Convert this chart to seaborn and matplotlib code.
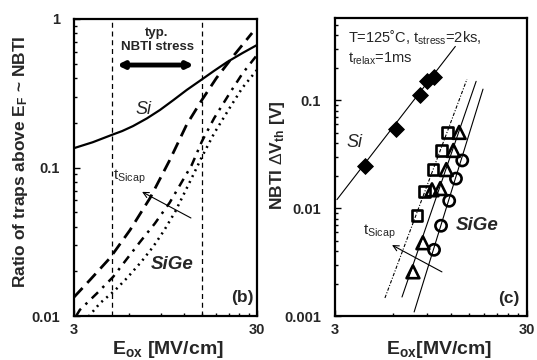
import numpy as np
import matplotlib
matplotlib.use("Agg")
import matplotlib.pyplot as plt
import seaborn as sns

# (b) trap ratio curves
si_x = [3.0, 3.8, 4.84, 5.5, 6.30, 7.5, 8.85, 10.5, 12.4, 15.0, 17.5, 20.6, 25.0, 30.0]
si_y = [0.135, 0.148, 0.166, 0.176, 0.190, 0.214, 0.244, 0.285, 0.333, 0.392, 0.448, 0.513, 0.590, 0.668]

dash_x = [3.0, 3.67, 4.72, 6.07, 7.81, 10.0, 12.4, 15.0, 18.0, 22.2, 28.2]
dash_y = [0.0134, 0.0175, 0.0246, 0.0379, 0.0623, 0.112, 0.195, 0.285, 0.400, 0.560, 0.805]

dashdot_x = [3.08, 3.23, 4.0, 4.90, 5.8, 6.88, 8.3, 10.0, 13.2, 15.0, 17.5, 21.4, 25.0, 30.0]
dashdot_y = [0.0100, 0.0110, 0.0142, 0.0183, 0.0240, 0.0315, 0.0420, 0.0580, 0.104, 0.150, 0.215, 0.320, 0.430, 0.572]

dot_x = [3.6, 4.16, 5.0, 5.84, 7.0, 8.11, 9.3, 10.7, 13.2, 15.0, 17.5, 21.4, 25.0, 30.0]
dot_y = [0.0099, 0.0122, 0.0148, 0.0180, 0.0232, 0.0292, 0.0375, 0.0502, 0.085, 0.118, 0.170, 0.255, 0.345, 0.454]

stress_window = [4.85, 15.0]

# (c) measured NBTI shifts
si_eox = [4.30, 6.24, 8.31, 9.04, 9.84]
si_dvth = [0.0248, 0.0537, 0.111, 0.150, 0.164]
si_fit_x = [3.07, 12.7]
si_fit_y = [0.012, 0.316]

sq_eox = [11.6, 10.7, 9.72, 8.82, 8.02]
sq_dvth = [0.0504, 0.0343, 0.0228, 0.0142, 0.0085]
tri_eox = [13.3, 12.4, 11.4, 10.6, 9.6, 8.61, 7.64]
tri_dvth = [0.0504, 0.0343, 0.0228, 0.0152, 0.0148, 0.00478, 0.00257]
circ_eox = [13.8, 12.8, 11.8, 10.7, 9.84]
circ_dvth = [0.0277, 0.0188, 0.0117, 0.00687, 0.00411]

fit1_x, fit1_y = [5.46, 14.6], [0.00147, 0.157]
fit2_x, fit2_y = [6.70, 16.3], [0.0015, 0.150]
fit3_x, fit3_y = [7.75, 17.7], [0.00109, 0.127]

sns.set_style("ticks")
plt.rcParams["font.family"] = ["Liberation Sans", "DejaVu Sans"]
plt.rcParams["mathtext.fontset"] = "custom"
plt.rcParams["mathtext.rm"] = "Liberation Sans"
plt.rcParams["mathtext.it"] = "Liberation Sans:italic"
plt.rcParams["mathtext.bf"] = "Liberation Sans:bold"

fig = plt.figure(figsize=(5.37, 3.6), dpi=100)
ax1 = fig.add_axes([74 / 537, 1 - 316 / 360, 183 / 537, 297 / 360])
ax2 = fig.add_axes([335 / 537, 1 - 316 / 360, 192 / 537, 298 / 360])

for ax in (ax1, ax2):
    ax.set_xscale("log")
    ax.set_yscale("log")

# ---- panel (b)
sns.lineplot(x=si_x, y=si_y, ax=ax1, color="black", lw=1.6, estimator=None)
sns.lineplot(x=dash_x, y=dash_y, ax=ax1, color="black", lw=2.0,
             linestyle=(0, (4.5, 2.5)), estimator=None)
sns.lineplot(x=dashdot_x, y=dashdot_y, ax=ax1, color="black", lw=1.8,
             linestyle=(0, (3.5, 2.5, 1, 2.5)), estimator=None)
sns.lineplot(x=dot_x, y=dot_y, ax=ax1, color="black", lw=1.8,
             linestyle=(0, (0.8, 1.8)), estimator=None)
for xv in stress_window:
    ax1.axvline(xv, color="black", lw=0.9, linestyle=(0, (4, 3)))

ax1.set_xlim(3, 30)
ax1.set_ylim(0.01, 1)

ax1.annotate("", xy=(0.235, 0.845), xytext=(0.655, 0.845), xycoords="axes fraction",
             arrowprops=dict(arrowstyle="<|-|>", color="black", lw=3.5,
                             mutation_scale=9, shrinkA=0, shrinkB=0))
ax1.text(0.454, 0.93, "typ.\nNBTI stress", transform=ax1.transAxes, ha="center",
         va="center", fontsize=9.5, fontweight="bold", linespacing=1.2)
ax1.text(0.377, 0.694, "Si", transform=ax1.transAxes, ha="center", va="center",
         fontsize=13, style="italic")
ax1.text(0.536, 0.172, "SiGe", transform=ax1.transAxes, ha="center", va="center",
         fontsize=13.5, style="italic", fontweight="bold")
ax1.text(0.213, 0.468, r"t$_\mathrm{Sicap}$", transform=ax1.transAxes, ha="left",
         va="center", fontsize=11)
ax1.annotate("", xy=(0.372, 0.418), xytext=(0.639, 0.330), xycoords="axes fraction",
             arrowprops=dict(arrowstyle="->", color="black", lw=0.8,
                             shrinkA=0, shrinkB=0))
ax1.text(0.918, 0.061, "(b)", transform=ax1.transAxes, ha="center", va="center",
         fontsize=12.5, fontweight="bold")

ax1.set_yticks([0.01, 0.1, 1])
ax1.set_yticklabels(["0.01", "0.1", "1"])
ax1.set_yticks([k * d for d in (0.01, 0.1) for k in range(2, 10)], minor=True)
ax1.set_ylabel(r"Ratio of traps above E$_\mathbf{F}$ ~ NBTI", fontsize=12.5,
               fontweight="bold", va="center")
ax1.yaxis.set_label_coords(-0.295, 0.52)
ax1.set_xlabel(r"E$_\mathbf{ox}$ [MV/cm]", fontsize=14, fontweight="bold", va="center")
ax1.xaxis.set_label_coords(0.514, -0.114)

# ---- panel (c)
sns.lineplot(x=si_fit_x, y=si_fit_y, ax=ax2, color="black", lw=0.8, estimator=None)
sns.lineplot(x=fit1_x, y=fit1_y, ax=ax2, color="black", lw=0.8,
             linestyle=(0, (3, 1.5, 1, 1.5)), estimator=None)
sns.lineplot(x=fit2_x, y=fit2_y, ax=ax2, color="black", lw=0.8, estimator=None)
sns.lineplot(x=fit3_x, y=fit3_y, ax=ax2, color="black", lw=0.8, estimator=None)

sns.scatterplot(x=si_eox, y=si_dvth, ax=ax2, marker="D", s=65, color="black",
                edgecolor="black", zorder=3)
sns.scatterplot(x=sq_eox, y=sq_dvth, ax=ax2, marker="s", s=62, facecolor="none",
                edgecolor="black", linewidth=1.9, zorder=3)
sns.scatterplot(x=tri_eox, y=tri_dvth, ax=ax2, marker="^", s=85, facecolor="none",
                edgecolor="black", linewidth=1.9, zorder=3)
sns.scatterplot(x=circ_eox, y=circ_dvth, ax=ax2, marker="o", s=65, facecolor="none",
                edgecolor="black", linewidth=1.9, zorder=3)

ax2.set_xlim(3, 30)
ax2.set_ylim(0.001, 0.58)

ax2.text(0.068, 0.966, "T=125\u02daC, t$_\\mathrm{stress}$=2ks,\nt$_\\mathrm{relax}$=1ms",
         transform=ax2.transAxes, ha="left", va="top", fontsize=10.5, linespacing=1.3)
ax2.text(0.104, 0.581, "Si", transform=ax2.transAxes, ha="center", va="center",
         fontsize=13, style="italic")
ax2.text(0.74, 0.305, "SiGe", transform=ax2.transAxes, ha="center", va="center",
         fontsize=13.5, style="italic", fontweight="bold")
ax2.text(0.146, 0.282, r"t$_\mathrm{Sicap}$", transform=ax2.transAxes, ha="left",
         va="center", fontsize=11)
ax2.annotate("", xy=(0.297, 0.238), xytext=(0.557, 0.148), xycoords="axes fraction",
             arrowprops=dict(arrowstyle="->", color="black", lw=0.8,
                             shrinkA=0, shrinkB=0))
ax2.text(0.906, 0.06, "(c)", transform=ax2.transAxes, ha="center", va="center",
         fontsize=12.5, fontweight="bold")

ax2.set_yticks([0.001, 0.01, 0.1])
ax2.set_yticklabels(["0.001", "0.01", "0.1"])
ax2.set_yticks([k * d for d in (0.001, 0.01, 0.1) for k in range(2, 10)
                if k * d < 0.58], minor=True)
ax2.set_ylabel(r"NBTI $\Delta$V$_\mathbf{th}$ [V]", fontsize=12.5, fontweight="bold",
               va="center")
ax2.yaxis.set_label_coords(-0.297, 0.54)
ax2.set_xlabel(r"E$_\mathbf{ox}$[MV/cm]", fontsize=14, fontweight="bold", va="center")
ax2.xaxis.set_label_coords(0.54, -0.114)

for ax in (ax1, ax2):
    ax.set_xticks([3, 30])
    ax.set_xticklabels(["3", "30"])
    ax.set_xticks([3 * k for k in range(2, 10)], minor=True)
    ax.xaxis.set_minor_formatter(matplotlib.ticker.NullFormatter())
    ax.yaxis.set_minor_formatter(matplotlib.ticker.NullFormatter())
    ax.tick_params(which="both", direction="in", top=False, right=False,
                   width=1.0, color="black")
    ax.tick_params(which="major", length=4.5, labelsize=10.5)
    ax.tick_params(which="minor", length=2.5)
    ax.tick_params(axis="x", which="major", pad=5)
    ax.tick_params(axis="y", which="major", pad=10)
    for lab in ax.get_xticklabels() + ax.get_yticklabels():
        lab.set_fontweight("bold")
    for sp in ax.spines.values():
        sp.set_visible(True)
        sp.set_linewidth(1.6)
        sp.set_color("black")

fig.savefig("out.png", dpi=100)
